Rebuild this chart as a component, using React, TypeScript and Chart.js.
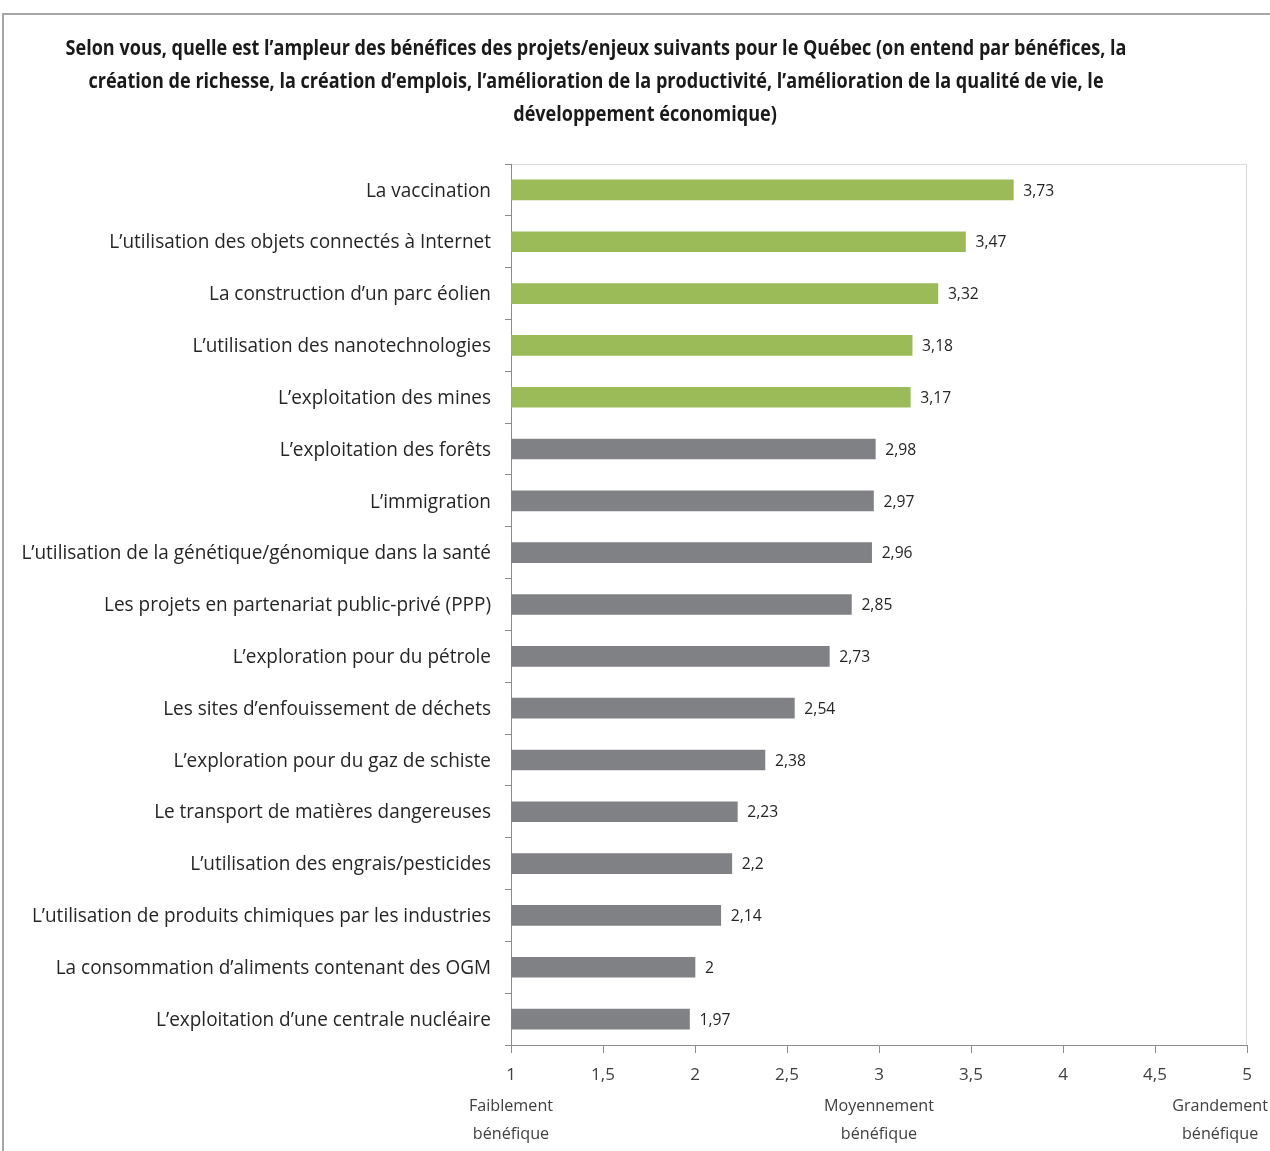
import React, { useEffect, useRef } from "react";
import { Chart, registerables } from "chart.js";

Chart.register(...registerables);

const titleLines = [
  "Selon vous, quelle est l’ampleur des bénéfices des projets/enjeux suivants pour le Québec (on entend par bénéfices, la",
  "création de richesse, la création d’emplois, l’amélioration de la productivité, l’amélioration de la qualité de vie, le",
  "développement économique)",
];

const categories = [
  "La vaccination",
  "L’utilisation des objets connectés à Internet",
  "La construction d’un parc éolien",
  "L’utilisation des nanotechnologies",
  "L’exploitation des mines",
  "L’exploitation des forêts",
  "L’immigration",
  "L’utilisation de la génétique/génomique dans la santé",
  "Les projets en partenariat public-privé (PPP)",
  "L’exploration pour du pétrole",
  "Les sites d’enfouissement de déchets",
  "L’exploration pour du gaz de schiste",
  "Le transport de matières dangereuses",
  "L’utilisation des engrais/pesticides",
  "L’utilisation de produits chimiques par les industries",
  "La consommation d’aliments contenant des OGM",
  "L’exploitation d’une centrale nucléaire",
];

const values = [3.73, 3.47, 3.32, 3.18, 3.17, 2.98, 2.97, 2.96, 2.85, 2.73, 2.54, 2.38, 2.23, 2.2, 2.14, 2, 1.97];

const highlighted = [true, true, true, true, true, false, false, false, false, false, false, false, false, false, false, false, false];

const xTickValues = [1, 1.5, 2, 2.5, 3, 3.5, 4, 4.5, 5];

const scaleNotes = [
  { value: 1, lines: ["Faiblement", "bénéfique"] },
  { value: 3, lines: ["Moyennement", "bénéfique"] },
  { value: 5, lines: ["Grandement", "bénéfique"] },
];

const FONT = "'Open Sans', sans-serif";
const fmt = (v: number) => String(v).replace(".", ",");

function scaledText(ctx: any, text: string, x: number, y: number, sx: number, align: string) {
  ctx.save();
  ctx.translate(x, y);
  ctx.scale(sx, 1);
  ctx.textAlign = align;
  ctx.fillText(text, 0, 0);
  ctx.restore();
}

export default function App() {
  const ref = useRef<HTMLCanvasElement | null>(null);

  useEffect(() => {
    document.body.style.margin = "0";
    const canvas = ref.current;
    if (!canvas) return;

    const decor = {
      id: "decor",
      beforeDraw(chart: any) {
        const ctx = chart.ctx;
        const a = chart.chartArea;
        ctx.save();
        ctx.fillStyle = "#ffffff";
        ctx.fillRect(0, 0, chart.width, chart.height);
        // outer frame
        ctx.strokeStyle = "#a6a6a6";
        ctx.lineWidth = 2;
        ctx.beginPath();
        ctx.moveTo(3, chart.height);
        ctx.lineTo(3, 14);
        ctx.lineTo(chart.width, 14);
        ctx.stroke();
        // plot area box (top/right)
        ctx.strokeStyle = "#d9d9d9";
        ctx.lineWidth = 1;
        ctx.beginPath();
        ctx.moveTo(a.left, a.top + 0.5);
        ctx.lineTo(a.right - 0.5, a.top + 0.5);
        ctx.lineTo(a.right - 0.5, a.bottom);
        ctx.stroke();
        // title
        ctx.fillStyle = "#1a1a1a";
        ctx.font = `bold 21px ${FONT}`;
        ctx.textBaseline = "middle";
        const cx = [596, 596, 645];
        titleLines.forEach((t, i) => scaledText(ctx, t, cx[i], 49 + i * 33, 0.86, "center"));
        ctx.restore();
      },
      afterDatasetsDraw(chart: any) {
        const ctx = chart.ctx;
        const meta = chart.getDatasetMeta(0);
        const xs = chart.scales.x;
        const ys = chart.scales.y;
        ctx.save();
        ctx.textBaseline = "middle";
        // category labels
        ctx.fillStyle = "#262626";
        ctx.font = `20px ${FONT}`;
        categories.forEach((c, i) => {
          scaledText(ctx, c, ys.left + ys.width - 20, ys.getPixelForValue(i) + 1, 0.948, "right");
        });
        // value labels
        ctx.fillStyle = "#262626";
        ctx.font = `16.5px ${FONT}`;
        meta.data.forEach((bar: any, i: number) => {
          scaledText(ctx, fmt(values[i]), bar.x + 10, bar.y + 1, 0.95, "left");
        });
        // scale notes
        ctx.fillStyle = "#404040";
        ctx.font = `17px ${FONT}`;
        scaleNotes.forEach((n) => {
          let x = xs.getPixelForValue(n.value);
          const w = Math.max(...n.lines.map((l) => ctx.measureText(l).width)) * 0.95;
          x = Math.min(x, chart.width - w / 2 - 2);
          n.lines.forEach((l, j) => scaledText(ctx, l, x, 1106 + j * 28, 0.95, "center"));
        });
        ctx.restore();
      },
    };

    const chart = new Chart(canvas, {
      type: "bar",
      data: {
        labels: categories,
        datasets: [
          {
            data: values,
            base: 1,
            backgroundColor: highlighted.map((h) => (h ? "#9bbb59" : "#808184")),
            barThickness: 20,
          },
        ],
      },
      options: {
        indexAxis: "y",
        animation: false,
        responsive: false,
        devicePixelRatio: 1,
        layout: { padding: { top: 164, left: 0, right: 23, bottom: 0 } },
        plugins: {
          legend: { display: false },
          tooltip: { enabled: false },
          title: { display: false },
        },
        scales: {
          x: {
            min: 1,
            max: 5,
            afterBuildTicks: (scale: any) => {
              scale.ticks = xTickValues.map((v) => ({ value: v }));
            },
            afterFit: (scale: any) => {
              scale.height = 106;
            },
            ticks: {
              callback: (v: any) => fmt(Number(v)),
              color: "#404040",
              font: { family: FONT, size: 17 },
              padding: 12,
              maxRotation: 0,
              autoSkip: false,
            },
            grid: {
              drawOnChartArea: false,
              drawTicks: true,
              tickLength: 8,
              color: "#8c8c8c",
            },
            border: { color: "#8c8c8c", width: 1 },
          },
          y: {
            afterFit: (scale: any) => {
              scale.width = 511;
            },
            ticks: {
              color: "rgba(0,0,0,0)",
              font: { family: FONT, size: 20 },
              padding: 20,
              autoSkip: false,
            },
            grid: {
              drawOnChartArea: false,
              drawTicks: true,
              tickLength: 6,
              offset: true,
              color: "#8c8c8c",
            },
            border: { color: "#8c8c8c", width: 1 },
          },
        },
      },
      plugins: [decor],
    });
    return () => chart.destroy();
  }, []);

  return (
    <div style={{ width: 1270, height: 1151 }}>
      <canvas ref={ref} width={1270} height={1151} style={{ display: "block" }} />
    </div>
  );
}
